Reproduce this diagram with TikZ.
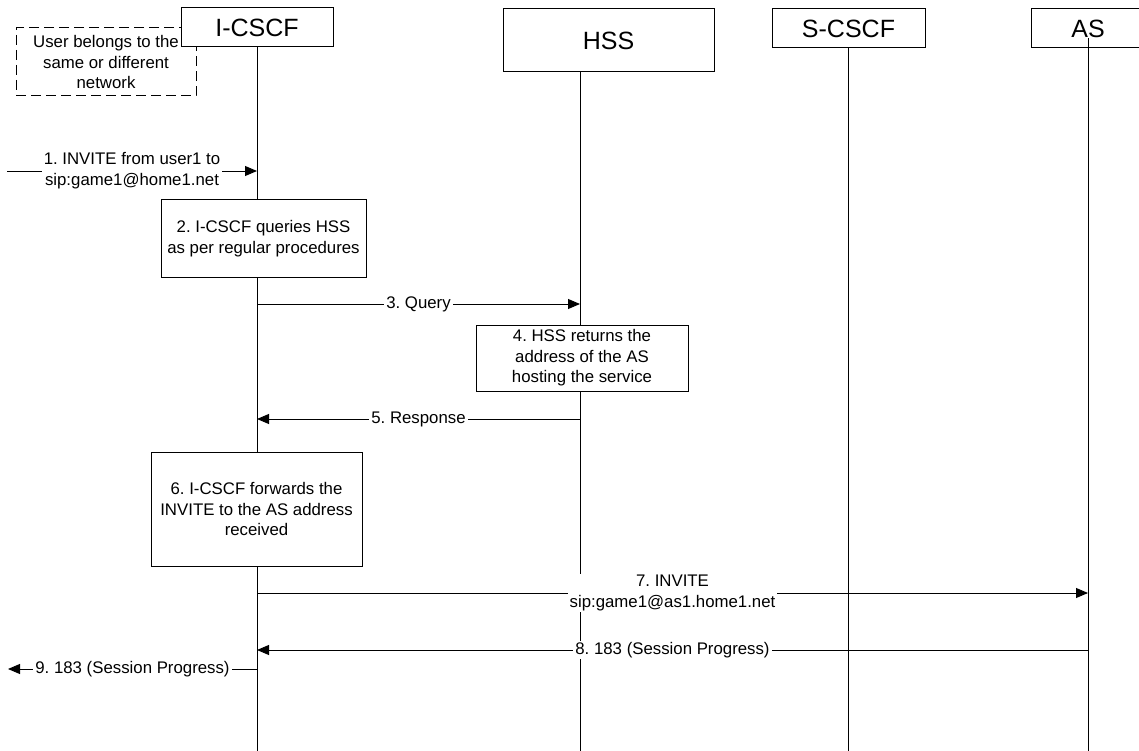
\documentclass[tikz,border=0pt]{standalone}
\usepackage{fontspec}
\setmainfont{Liberation Sans}
\usetikzlibrary{arrows.meta}
\begin{document}
\frenchspacing
\begin{tikzpicture}[x=1pt,y=-1pt,
  hdr/.style={draw, fill=white, line width=1pt, inner sep=0pt, font=\fontsize{25}{30}\selectfont},
  actbox/.style={draw, fill=white, line width=1pt, inner sep=0pt, align=center, font=\fontsize{16.8}{20.5}\selectfont\frenchspacing},
  notebox/.style={draw, dash pattern=on 10pt off 5pt, line width=1pt, inner sep=0pt, align=center, font=\fontsize{16.8}{20.5}\selectfont},
  lbl/.style={fill=white, inner xsep=2pt, inner ysep=1pt, align=center, font=\fontsize{16.8}{21}\selectfont\frenchspacing},
  life/.style={line width=1pt},
  msg/.style={line width=0.9pt, -{Triangle[length=12pt,width=10pt]}}]
\useasboundingbox (0,0) rectangle (1139,751);
\fill[white] (0,0) rectangle (1139,751);

% note and headers
\node[notebox, minimum width=180pt, minimum height=68pt] (note) at (106,62) {User belongs to the\\same or different\\network};
\node[hdr, minimum width=152pt, minimum height=39pt] (icscf) at (257,27.5) {I-CSCF};
\node[hdr, minimum width=211pt, minimum height=63pt] (hss) at (608.5,40.5) {HSS};
\node[hdr, minimum width=153pt, minimum height=39pt] (scscf) at (848.5,28.5) {S-CSCF};
\node[hdr, minimum width=114pt, minimum height=39pt] (as) at (1088,28.5) {AS};

% lifelines
\coordinate (iB) at (257,751);
\coordinate (hB) at (580,751);
\coordinate (sB) at (848.5,751);
\coordinate (aT) at (1088,38);
\coordinate (aB) at (1088,751);
\draw[life] (icscf.south) -- (iB);
\draw[life] (hss.south -| hB) -- (hB);
\draw[life] (scscf.south) -- (sB);
\draw[life] (aT) -- (aB);

% action boxes
\node[actbox, minimum width=205pt, minimum height=77pt] (b2) at (263.5,238.5) {2. I-CSCF queries HSS\\as per regular procedures};
\node[actbox, minimum width=212pt, minimum height=66pt] (b4) at (582,358) {4. HSS returns the\\address of the AS\\hosting the service};
\node[actbox, minimum width=211pt, minimum height=114pt] (b6) at (256.5,509) {6. I-CSCF forwards the\\INVITE to the AS address\\received};

% message end points
\coordinate (m1a) at (7,171);    \coordinate (m1b) at (257,171);
\coordinate (m3a) at (257,304);  \coordinate (m3b) at (580,304);
\coordinate (m5a) at (580,419);  \coordinate (m5b) at (257,419);
\coordinate (m7a) at (257,593);  \coordinate (m7b) at (1088,593);
\coordinate (m8a) at (1088,650); \coordinate (m8b) at (257,650);
\coordinate (m9a) at (257,669);  \coordinate (m9b) at (8,669);

\draw[msg] (m1a) -- (m1b) node[lbl, midway] {1. INVITE from user1 to\\sip:game1@home1.net};
\draw[msg] (m3a) -- (m3b) node[lbl, midway] {3. Query};
\draw[msg] (m5a) -- (m5b) node[lbl, midway] {5. Response};
\draw[msg] (m7a) -- (m7b) node[lbl, midway] {7. INVITE\\sip:game1@as1.home1.net};
\draw[msg] (m8a) -- (m8b) node[lbl, midway] {8. 183 (Session Progress)};
\draw[msg] (m9a) -- (m9b) node[lbl, midway] {9. 183 (Session Progress)};
\end{tikzpicture}
\end{document}
